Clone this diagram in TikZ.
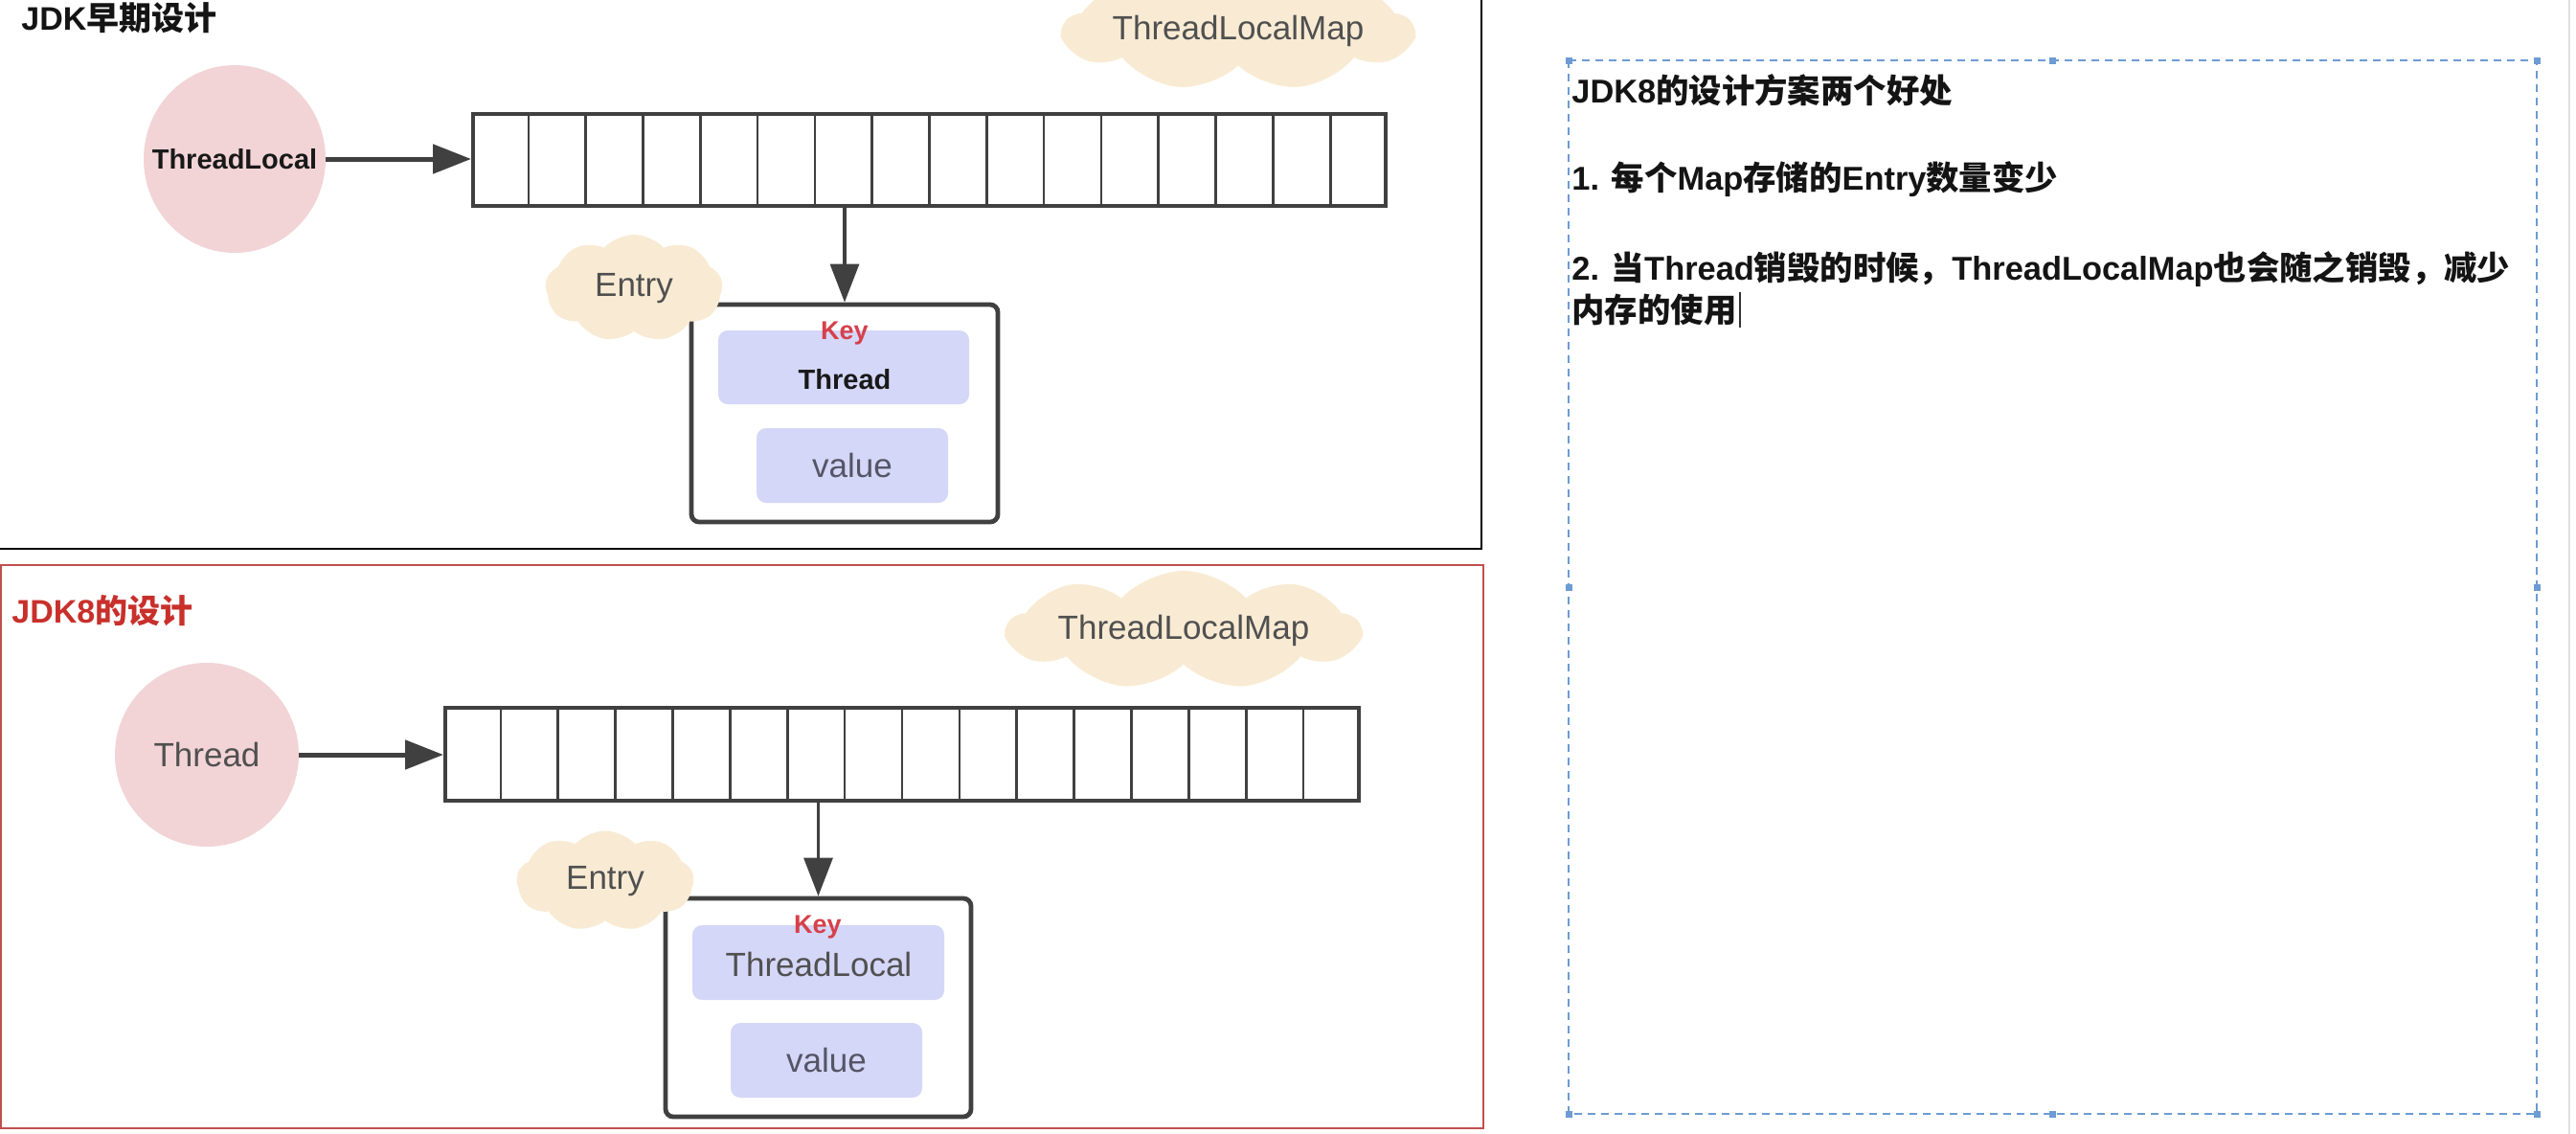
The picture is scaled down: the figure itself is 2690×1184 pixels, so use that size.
\documentclass[tikz,border=0pt]{standalone}
\usepackage{fontspec}
\setmainfont{Liberation Sans}
\newfontfamily\cjkfont{Noto Sans CJK SC}
\newcommand{\zhtxt}[1]{{\cjkfont #1}}
\usetikzlibrary{shapes.symbols,shapes.geometric,arrows.meta,calc}
\definecolor{pinkc}{HTML}{F2D4D7}
\definecolor{cloudc}{HTML}{F9EBD3}
\definecolor{lavc}{HTML}{D5D7F8}
\definecolor{keyred}{HTML}{D6404A}
\definecolor{titlered}{HTML}{C8302B}
\definecolor{redborder}{HTML}{C0504D}
\definecolor{dashblue}{HTML}{6D9BD3}
\definecolor{darkline}{HTML}{404040}
\definecolor{graytext}{HTML}{505050}
\definecolor{valuetext}{HTML}{555566}
\tikzset{
  graylbl/.style={text=graytext, inner sep=0pt, font=\fontsize{17.5}{20}\selectfont},
  boldlbl/.style={text=black!90, inner sep=0pt, font=\bfseries\fontsize{14.5}{17}\selectfont},
  keylbl/.style={text=keyred, inner sep=0pt, font=\bfseries\fontsize{13.5}{16}\selectfont},
  bubble/.style={ellipse, fill=pinkc, inner sep=0pt},
  arraybox/.style={draw=darkline, line width=2pt, fill=white, inner sep=0pt},
  cellline/.style={draw=darkline, line width=1.3pt},
  entrybox/.style={draw=darkline, line width=2.4pt, rounded corners=4pt, fill=white, inner sep=0pt},
  fieldbox/.style={fill=lavc, rounded corners=5pt, inner sep=0pt},
  puff/.style={cloud, cloud puffs=9, cloud puff arc=95, cloud ignores aspect, fill=cloudc, draw=none, inner sep=0pt},
  harrow/.style={draw=darkline, line width=2.5pt, -{Triangle[length=20pt,width=15pt]}},
  varrow/.style={draw=darkline, line width=1.6pt, -{Triangle[length=20pt,width=15pt]}},
  titlelbl/.style={anchor=west, inner sep=0pt, font=\bfseries\fontsize{17}{20}\selectfont},
  notelbl/.style={anchor=west, inner sep=0pt, text=black!92, font=\bfseries\fontsize{17.2}{20}\selectfont},
  dashbox/.style={draw=dashblue, line width=0.8pt, dash pattern=on 4pt off 3pt},
}
\begin{document}
\begin{tikzpicture}[x=0.5pt,y=-0.5pt]
\useasboundingbox[fill=white] (0,0) rectangle (2690,1184);

% ---------- panel borders ----------
\draw[black, line width=1pt] (-5,-5) rectangle (1547,573);
\draw[redborder, line width=1pt] (1,590) rectangle (1549,1178);
\draw[gray!25, line width=0.6pt] (2683,0) -- (2683,1184);

% ---------- top panel: JDK early design ----------
\node[titlelbl, text=black!92] (title1) at (22,19) {JDK\zhtxt{早期设计}};

\node[puff, minimum width=182.5pt, minimum height=62.5pt,
      label={[graylbl]center:ThreadLocalMap}] (tlm1) at (1293,32) {};

\node[bubble, minimum width=95pt, minimum height=98pt,
      label={[boldlbl]center:ThreadLocal}] (tl1) at (245,166) {};

\node[arraybox, minimum width=476.5pt, minimum height=48pt] (arr1) at (970.5,167) {};
\foreach \i in {1,...,15}
  \draw[cellline] ($(arr1.south west)!\i/16!(arr1.south east)$) -- ($(arr1.north west)!\i/16!(arr1.north east)$);

\node[entrybox, minimum width=160pt, minimum height=113.5pt] (ent1) at (882,431.5) {};
\node[fieldbox, minimum width=131pt, minimum height=38.5pt] (k1) at (881,383.5) {};
\node[keylbl] (key1) at (882,348) {Key};
\node[boldlbl] (th1) at (882,396) {Thread};
\node[fieldbox, minimum width=100pt, minimum height=39pt, text=valuetext,
      font=\fontsize{17.5}{20}\selectfont] (v1) at (890,486) {value};

\node[puff, minimum width=92.5pt, minimum height=56pt,
      label={[graylbl]center:Entry}] (en1) at (662,301) {};

\draw[harrow] (tl1.east) -- (tl1.east -| arr1.west);
\draw[varrow] (ent1.north |- arr1.south) -- (ent1.north);

% ---------- bottom panel: JDK8 design ----------
\node[titlelbl, text=titlered] (title2) at (12,638) {JDK8\zhtxt{的设计}};

\node[puff, minimum width=184pt, minimum height=62pt,
      label={[graylbl]center:ThreadLocalMap}] (tlm2) at (1236,658) {};

\node[bubble, minimum width=96pt, minimum height=96pt,
      label={[graylbl]center:Thread}] (th2) at (216,788) {};

\node[arraybox, minimum width=477pt, minimum height=48.5pt] (arr2) at (942,787.5) {};
\foreach \i in {1,...,15}
  \draw[cellline] ($(arr2.south west)!\i/16!(arr2.south east)$) -- ($(arr2.north west)!\i/16!(arr2.north east)$);

\node[entrybox, minimum width=159.5pt, minimum height=114pt] (ent2) at (854.5,1052) {};
\node[fieldbox, minimum width=131.5pt, minimum height=39pt] (k2) at (854.5,1005) {};
\node[keylbl] (key2) at (854,968) {Key};
\node[graylbl] (tl2) at (855,1007) {ThreadLocal};
\node[fieldbox, minimum width=100pt, minimum height=39pt, text=valuetext,
      font=\fontsize{17.5}{20}\selectfont] (v2) at (863,1107) {value};

\node[puff, minimum width=92.5pt, minimum height=52.5pt,
      label={[graylbl]center:Entry}] (en2) at (632,920) {};

\draw[harrow] (th2.east) -- (th2.east -| arr2.west);
\draw[varrow] (ent2.north |- arr2.south) -- (ent2.north);

% ---------- right panel: notes ----------
\draw[dashbox] (1638,63) rectangle (2649,1163);
\foreach \p in {(1638,63),(2143.5,63),(2649,63),(1638,613),(2649,613),(1638,1163),(2143.5,1163),(2649,1163)}
  \fill[dashblue] \p ++(-3.5,-3.5) rectangle ++(7,7);

\node[notelbl] (r1) at (1641,94) {JDK8\zhtxt{的设计方案两个好处}};
\node[notelbl] (r2) at (1641,187) {1. \zhtxt{每个}Map\zhtxt{存储的}Entry\zhtxt{数量变少}};
\node[notelbl] (r3) at (1641,281) {2. \zhtxt{当}Thread\zhtxt{销毁的时候，}ThreadLocalMap\zhtxt{也会随之销毁，减少}};
\node[notelbl] (r4) at (1641,323) {\zhtxt{内存的使用}};
\draw[black!80, line width=0.8pt] ([xshift=1.5pt]r4.east) ++(0,-18) -- ++(0,37);
\end{tikzpicture}
\end{document}
